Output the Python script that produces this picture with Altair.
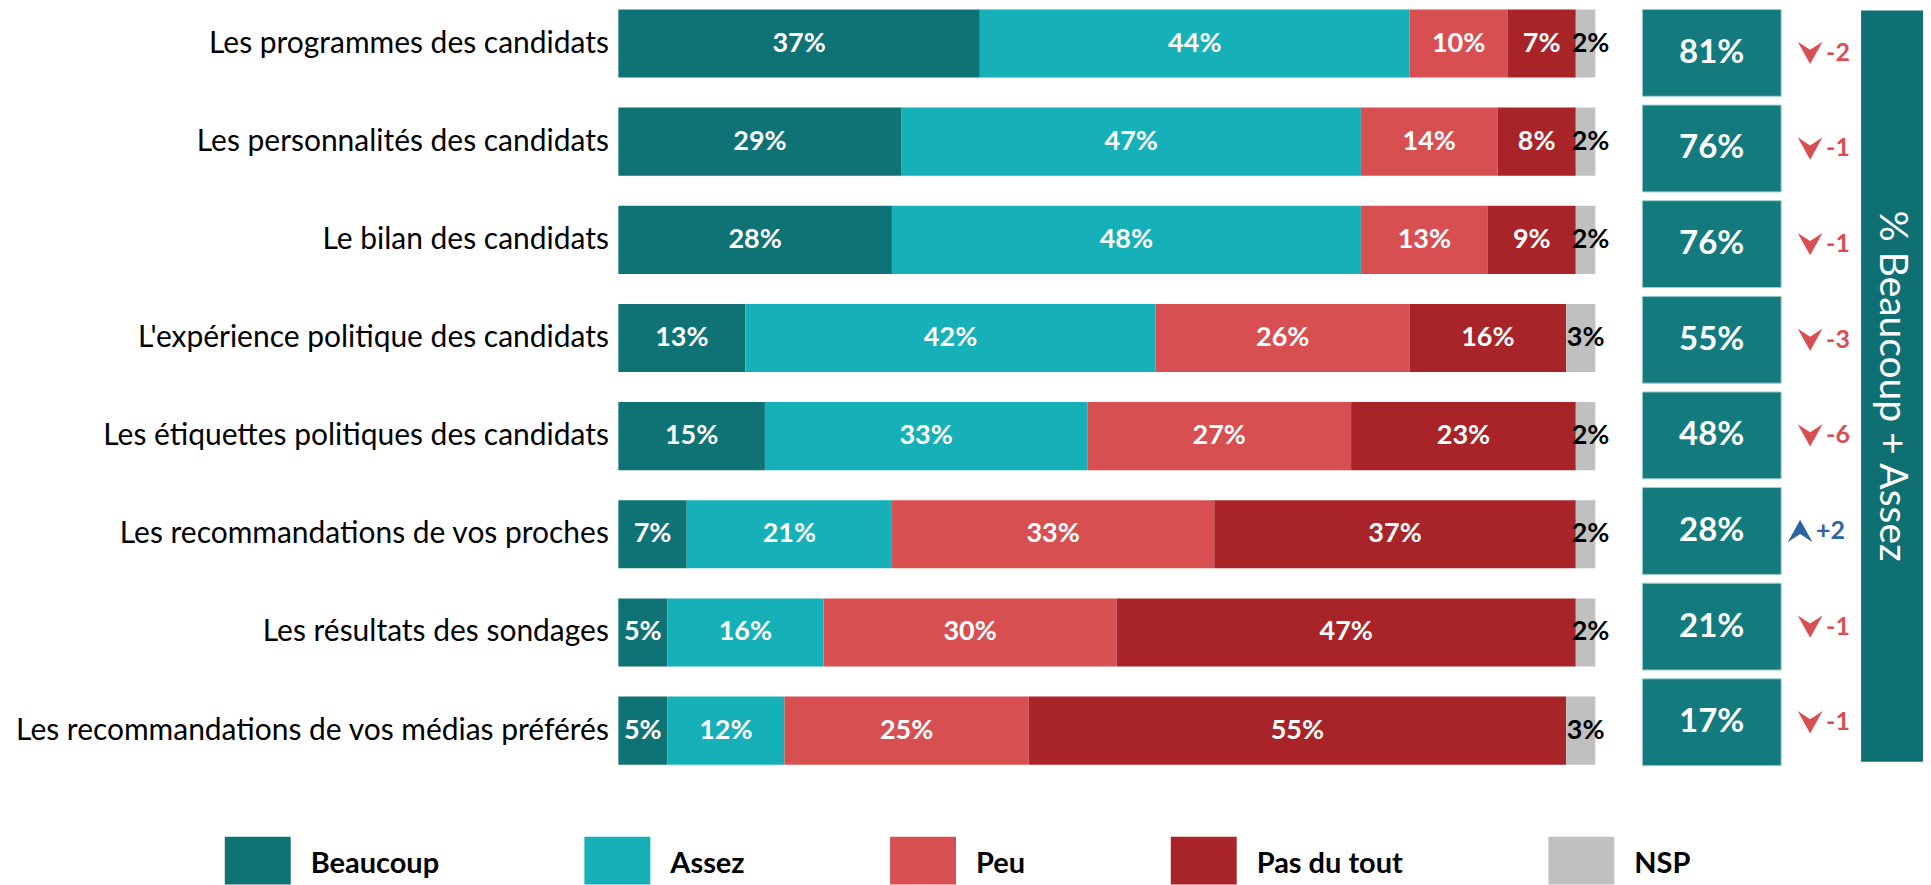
import altair as alt
import pandas as pd

# ---------------- data ----------------
items = [
    "Les programmes des candidats",
    "Les personnalités des candidats",
    "Le bilan des candidats",
    "L'expérience politique des candidats",
    "Les étiquettes politiques des candidats",
    "Les recommandations de vos proches",
    "Les résultats des sondages",
    "Les recommandations de vos médias préférés",
]
categories = ["Beaucoup", "Assez", "Peu", "Pas du tout", "NSP"]
beaucoup = [37, 29, 28, 13, 15, 7, 5, 5]
assez = [44, 47, 48, 42, 33, 21, 16, 12]
peu = [10, 14, 13, 26, 27, 33, 30, 25]
pas_du_tout = [7, 8, 9, 16, 23, 37, 47, 55]
nsp = [2, 2, 2, 3, 2, 2, 2, 3]
total_beaucoup_assez = [81, 76, 76, 55, 48, 28, 21, 17]
evolution = [-2, -1, -1, -3, -6, 2, -1, -1]
side_title = "% Beaucoup + Assez"

colors = ["#0F7275", "#15B0B8", "#D84F52", "#A82428", "#C0C0C0"]
FONT = "Lato"

series = [beaucoup, assez, peu, pas_du_tout, nsp]
rows = []
for i, it in enumerate(items):
    for j, cat in enumerate(categories):
        rows.append({"item": it, "cat": cat, "order": j, "value": series[j][i]})
df = pd.DataFrame(rows)

sdf = pd.DataFrame({"item": items, "total": total_beaucoup_assez, "evol": evolution})

# ---------------- panel A : stacked bars ----------------
DOWN = "M-1,-0.9L0,-0.25L1,-0.9L0,0.9Z"
UP = "M-1,0.9L0,0.25L1,0.9L0,-0.9Z"
LEG_SYM = "M-1,-0.82H1V0.63H-1Z"

xs = alt.Scale(domain=[0, 100], nice=False, zero=True)
yA = alt.Y(
    "item:N",
    sort=items,
    scale=alt.Scale(paddingInner=0.306, paddingOuter=0),
    axis=alt.Axis(
        title=None, ticks=False, domain=False, labelFont=FONT, labelFontSize=30,
        labelColor="black", labelPadding=10, labelLimit=900,
    ),
)

bars = alt.Chart(df).mark_bar().encode(
    x=alt.X("value:Q", stack="zero", scale=xs, axis=None),
    y=yA,
    color=alt.Color(
        "cat:N",
        scale=alt.Scale(domain=categories, range=colors),
        legend=alt.Legend(
            orient="none", legendX=-394, legendY=822, direction="horizontal",
            title=None, symbolType=LEG_SYM, symbolSize=4356, symbolStrokeWidth=0,
            symbolOpacity=1, labelFont=FONT, labelFontSize=29, labelFontWeight="bold",
            labelColor="black", labelOffset=20, columnPadding=145,
        ),
    ),
    order=alt.Order("order:Q"),
)

base_lab = alt.Chart(df).transform_stack(
    stack="value", groupby=["item"], as_=["x0", "x1"], sort=[alt.SortField("order")]
).transform_calculate(
    mid="(datum.x0 + datum.x1) / 2", label="datum.value + '%'"
)

lab_main = base_lab.transform_filter("datum.cat != 'NSP'").mark_text(
    font=FONT, fontWeight="bold", fontSize=27, color="white"
).encode(x=alt.X("mid:Q", scale=xs, axis=None), y=alt.Y("item:N", sort=items), text="label:N")

lab_nsp = base_lab.transform_filter("datum.cat == 'NSP'").mark_text(
    font=FONT, fontWeight="bold", fontSize=27, color="black", dx=5
).encode(x=alt.X("mid:Q", scale=xs, axis=None), y=alt.Y("item:N", sort=items), text="label:N")

panelA = alt.layer(bars, lab_main, lab_nsp).properties(width=978, height=756)

# ---------------- panel B : totals and evolution ----------------
yB = alt.Y("item:N", sort=items, scale=alt.Scale(paddingInner=0.092, paddingOuter=0), axis=None)

boxes = alt.Chart(sdf).mark_rect(color="#137A7D", stroke="#9FCFD0", strokeWidth=1).encode(
    x=alt.value(47), x2=alt.value(186), y=yB
)
box_txt = alt.Chart(sdf).transform_calculate(lab="datum.total + '%'").mark_text(
    font=FONT, fontWeight="bold", fontSize=33, color="white"
).encode(x=alt.value(116.5), y=yB, text="lab:N")

down_arr = alt.Chart(sdf).transform_filter("datum.evol < 0").mark_point(
    shape=DOWN, filled=True, size=620, strokeWidth=0, opacity=1, color="#D84F52"
).encode(x=alt.value(215), y=yB)
up_arr = alt.Chart(sdf).transform_filter("datum.evol > 0").mark_point(
    shape=UP, filled=True, size=620, strokeWidth=0, opacity=1, color="#2E64A3"
).encode(x=alt.value(205), y=yB)

down_txt = alt.Chart(sdf).transform_filter("datum.evol < 0").transform_calculate(
    lab="'' + datum.evol"
).mark_text(font=FONT, fontWeight="bold", fontSize=25, color="#D84F52", align="left").encode(
    x=alt.value(231), y=yB, text="lab:N"
)
up_txt = alt.Chart(sdf).transform_filter("datum.evol > 0").transform_calculate(
    lab="'+' + datum.evol"
).mark_text(font=FONT, fontWeight="bold", fontSize=25, color="#2E64A3", align="left").encode(
    x=alt.value(221), y=yB, text="lab:N"
)

panelB = alt.layer(boxes, box_txt, down_arr, up_arr, down_txt, up_txt).properties(width=266, height=757)

# ---------------- panel C : vertical title bar ----------------
vdf = pd.DataFrame({"t": [side_title]})
rectC = alt.Chart(vdf).mark_rect(color="#0E7073").encode(
    x=alt.value(0), x2=alt.value(62), y=alt.value(1), y2=alt.value(753)
)
textC = alt.Chart(vdf).mark_text(
    angle=90, font=FONT, fontSize=39, color="white", align="center", baseline="middle"
).encode(x=alt.value(31), y=alt.value(377), text="t:N")
panelC = alt.layer(rectC, textC).properties(width=62, height=756)

chart = (
    alt.hconcat(panelA, panelB, panelC, spacing=0, bounds="flush")
    .configure(padding={"left": 6, "top": 0, "right": 0, "bottom": 0})
    .configure_view(stroke=None)
)

chart.save("out.html", embed_options={"renderer": "svg", "actions": False})
